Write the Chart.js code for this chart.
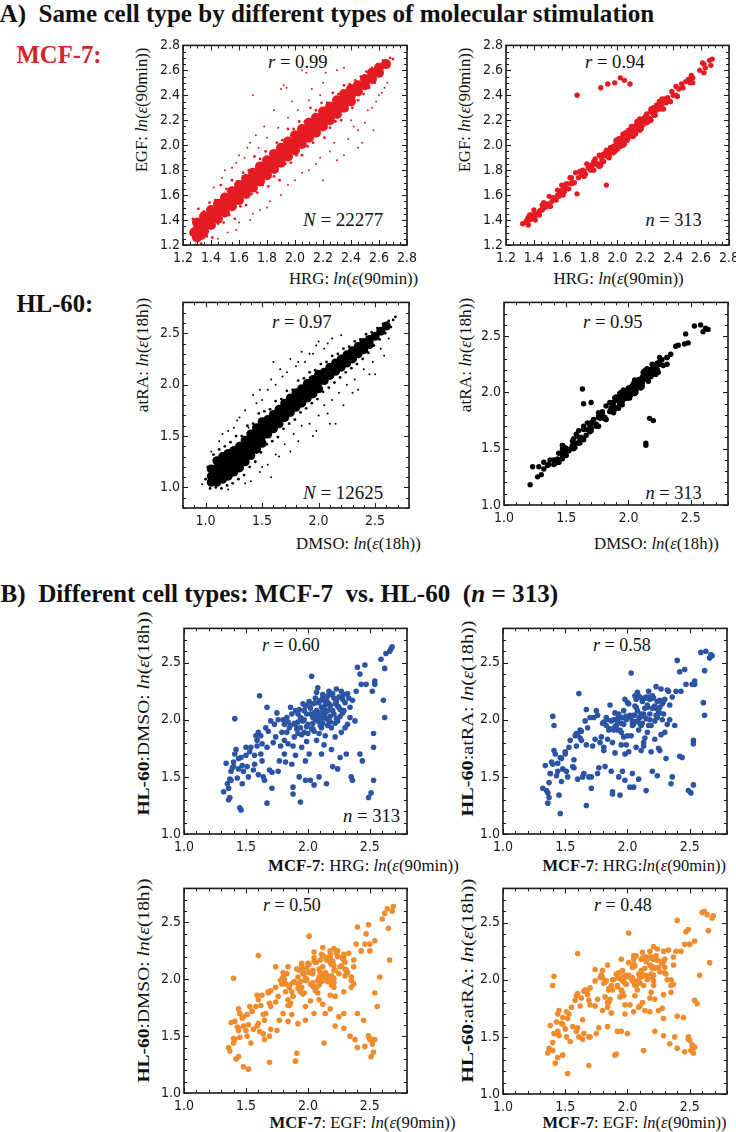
<!DOCTYPE html>
<html>
<head>
<meta charset="utf-8">
<script src="https://cdn.jsdelivr.net/npm/chart.js@4.4.1/dist/chart.umd.min.js"></script>
<style>
  html, body { margin: 0; padding: 0; background: #fff; }
  #page { position: relative; width: 736px; height: 1132px; overflow: hidden;
          font-family: "Liberation Serif", "Times New Roman", serif; color: #111; }
  .box { position: absolute; }
  .lbl { position: absolute; white-space: nowrap; line-height: 1; transform-origin: 50% 50%; }
  .hd { font-weight: bold; }
</style>
</head>
<body>
<div id="page">
  <!-- headings -->
  <div class="lbl hd" style="font-size:25px" data-x="327" data-y="13" data-w="655">A)&nbsp; Same cell type by different types of molecular stimulation</div>
  <div class="lbl hd" style="font-size:25px;color:#d9232a" data-x="59" data-y="54" data-w="85">MCF-7:</div>
  <div class="lbl hd" style="font-size:25px" data-x="55" data-y="303" data-w="77">HL-60:</div>
  <div class="lbl hd" style="font-size:25px" data-x="279" data-y="593" data-w="558">B)&nbsp; Different cell types: MCF-7&nbsp; vs. HL-60&nbsp; (<i>n</i> = 313)</div>

  <!-- MCF-7 row -->
  <div class="lbl" style="font-size:16px" data-x="142" data-y="110" data-w="125" data-r="-90">EGF: <i>ln</i>(<i>ε</i>(90min))</div>
  <div class="lbl" style="font-size:16px" data-x="353" data-y="279" data-w="129">HRG: <i>ln</i>(<i>ε</i>(90min))</div>
  <div class="lbl" style="font-size:18px" data-x="298" data-y="62" data-w="60"><i>r</i> = 0.99</div>
  <div class="lbl" style="font-size:18px" data-x="343" data-y="220" data-w="80"><i>N</i> = 22277</div>
  <div class="lbl" style="font-size:16px" data-x="465" data-y="110" data-w="125" data-r="-90">EGF: <i>ln</i>(<i>ε</i>(90min))</div>
  <div class="lbl" style="font-size:16px" data-x="618" data-y="279" data-w="130">HRG: <i>ln</i>(<i>ε</i>(90min))</div>
  <div class="lbl" style="font-size:18px" data-x="615" data-y="62" data-w="60"><i>r</i> = 0.94</div>
  <div class="lbl" style="font-size:18px" data-x="673" data-y="220" data-w="56"><i>n</i> = 313</div>

  <!-- HL-60 row -->
  <div class="lbl" style="font-size:16px" data-x="143" data-y="355" data-w="114" data-r="-90">atRA: <i>ln</i>(<i>ε</i>(18h))</div>
  <div class="lbl" style="font-size:16px" data-x="358" data-y="544" data-w="125">DMSO: <i>ln</i>(<i>ε</i>(18h))</div>
  <div class="lbl" style="font-size:18px" data-x="302" data-y="322" data-w="60"><i>r</i> = 0.97</div>
  <div class="lbl" style="font-size:18px" data-x="343" data-y="493" data-w="80"><i>N</i> = 12625</div>
  <div class="lbl" style="font-size:16px" data-x="466" data-y="355" data-w="114" data-r="-90">atRA: <i>ln</i>(<i>ε</i>(18h))</div>
  <div class="lbl" style="font-size:16px" data-x="656" data-y="544" data-w="125">DMSO: <i>ln</i>(<i>ε</i>(18h))</div>
  <div class="lbl" style="font-size:18px" data-x="613" data-y="322" data-w="60"><i>r</i> = 0.95</div>
  <div class="lbl" style="font-size:18px" data-x="673" data-y="493" data-w="56"><i>n</i> = 313</div>

  <!-- B panels -->
  <div class="lbl" style="font-size:17px" data-x="143" data-y="713" data-w="204" data-r="-90"><b>HL-60</b>:DMSO: <i>ln</i>(<i>ε</i>(18h))</div>
  <div class="lbl" style="font-size:17px" data-x="363" data-y="865" data-w="191"><b>MCF-7</b>: HRG: <i>ln</i>(<i>ε</i>(90min))</div>
  <div class="lbl" style="font-size:18px" data-x="291" data-y="645" data-w="58"><i>r</i> = 0.60</div>
  <div class="lbl" style="font-size:18px" data-x="371" data-y="816" data-w="57"><i>n</i> = 313</div>

  <div class="lbl" style="font-size:17px" data-x="467" data-y="718" data-w="196" data-r="-90"><b>HL-60</b>:atRA: <i>ln</i>(<i>ε</i>(18h))</div>
  <div class="lbl" style="font-size:17px" data-x="634" data-y="865" data-w="184"><b>MCF-7</b>: HRG:<i>ln</i>(<i>ε</i>(90min))</div>
  <div class="lbl" style="font-size:18px" data-x="622" data-y="645" data-w="58"><i>r</i> = 0.58</div>

  <div class="lbl" style="font-size:17px" data-x="143" data-y="980" data-w="204" data-r="-90"><b>HL-60</b>:DMSO: <i>ln</i>(<i>ε</i>(18h))</div>
  <div class="lbl" style="font-size:17px" data-x="362" data-y="1122" data-w="186"><b>MCF-7</b>: EGF: <i>ln</i>(<i>ε</i>(90min))</div>
  <div class="lbl" style="font-size:18px" data-x="292" data-y="905" data-w="58"><i>r</i> = 0.50</div>

  <div class="lbl" style="font-size:17px" data-x="467" data-y="980" data-w="204" data-r="-90"><b>HL-60</b>:atRA: <i>ln</i>(<i>ε</i>(18h))</div>
  <div class="lbl" style="font-size:17px" data-x="634" data-y="1122" data-w="184"><b>MCF-7</b>: EGF: <i>ln</i>(<i>ε</i>(90min))</div>
  <div class="lbl" style="font-size:18px" data-x="623" data-y="905" data-w="58"><i>r</i> = 0.48</div>
</div>

<script>
// tick labels
const mcfTicks = [1.2, 1.4, 1.6, 1.8, 2.0, 2.2, 2.4, 2.6, 2.8];
const halfTicks = [1.0, 1.5, 2.0, 2.5];

// the n = 313 selected genes, one value per gene
const hrg90 = [
  1.32,1.36,1.37,1.38,1.40,1.40,1.41,1.41,1.46,1.46, 1.47,1.44,1.47,1.50,1.50,1.51,1.52,1.54,1.38,1.43,
  1.35,1.56,1.57,1.59,1.59,1.60,1.61,1.62,1.63,1.63, 1.64,1.65,1.67,1.67,1.69,1.70,1.71,1.71,1.73,1.74,
  1.75,1.77,1.78,1.79,1.58,1.66,1.76,1.81,1.81,1.81, 1.82,1.83,1.83,1.85,1.86,1.87,1.88,1.88,1.88,1.89,
  1.90,1.90,1.92,1.92,1.93,1.93,1.94,1.94,1.95,1.96, 1.96,1.97,1.98,1.98,1.99,1.84,1.87,1.91,1.95,1.97,
  2.00,2.00,2.01,2.02,2.03,2.04,2.04,2.05,2.05,2.06, 2.07,2.07,2.08,2.08,2.09,2.09,2.11,2.11,2.11,2.12,
  2.13,2.13,2.14,2.15,2.15,2.16,2.17,2.17,2.18,2.19, 2.19,2.02,2.06,2.10,2.12,2.14,2.16,2.18,2.03,2.09,
  2.20,2.21,2.21,2.22,2.23,2.24,2.24,2.25,2.25,2.26, 2.27,2.27,2.28,2.30,2.31,2.32,2.33,2.34,2.34,2.35,
  2.36,2.38,2.39,2.40,2.42,2.42,2.43,2.44,2.46,2.47, 2.49,2.22,2.26,2.29,2.23,2.30,2.54,2.59,2.62,2.63,
  2.66,2.67,2.68,2.54,2.52,2.61,2.62,2.53,2.53,2.53, 2.51,1.98,2.01,2.04,2.07,2.10,2.13,2.15,2.17,2.19,
  2.20,2.23,2.26,2.28,1.94,1.99,2.05,2.11,2.16,1.89, 1.34,1.37,1.39,1.42,1.36,1.44,1.48,1.53,1.57,1.62,
  1.68,1.72,1.80,1.84,1.86,1.90,1.92,1.95,1.97,2.00, 2.02,2.04,2.06,2.08,2.10,2.12,2.14,2.16,2.18,2.20,
  2.22,2.24,2.26,2.29,2.32,1.76,1.60,1.99,2.13,2.36, 1.45,1.67
];
const egf90 = [
  1.37,1.36,1.44,1.41,1.41,1.48,1.40,1.45,1.52,1.48, 1.52,1.44,1.54,1.53,1.51,1.59,1.51,1.58,1.44,1.45,
  1.40,1.56,1.64,1.62,1.60,1.68,1.60,1.66,1.69,1.65, 1.69,1.65,1.74,1.70,1.70,1.78,1.61,2.40,1.79,1.76,
  1.80,1.77,1.85,1.82,1.59,1.74,1.75,1.82,1.84,1.80, 1.84,1.80,1.87,1.85,1.84,1.92,1.84,2.46,1.91,1.88,
  1.92,1.87,1.96,1.68,1.91,2.49,1.90,1.95,1.98,1.95, 1.98,1.94,2.50,1.98,1.97,1.89,1.83,1.92,1.98,1.96,
  2.02,1.97,2.05,2.54,2.01,2.09,2.00,2.06,2.52,2.05, 2.09,2.04,2.12,2.08,2.07,2.49,2.07,2.12,2.14,2.11,
  2.15,2.10,2.18,2.15,2.13,2.21,2.13,2.18,2.21,2.18, 2.21,1.99,2.10,2.10,2.10,2.19,2.12,2.19,2.06,2.08,
  2.22,2.18,2.25,2.22,2.21,2.29,2.20,2.26,2.28,2.25, 2.29,2.24,2.32,2.30,2.29,2.37,2.29,2.35,2.37,2.34,
  2.38,2.35,2.43,2.40,2.40,2.47,2.39,2.45,2.49,2.46, 2.51,2.19,2.30,2.29,2.21,2.35,2.50,2.60,2.65,2.62,
  2.68,2.64,2.69,2.54,2.50,2.66,2.58,2.54,2.56,2.52, 2.53,1.95,2.05,2.04,2.05,2.15,2.09,2.16,2.20,2.18,
  2.22,2.20,2.30,2.28,1.92,2.04,2.01,2.12,2.19,1.88, 1.38,1.40,1.43,1.44,1.42,1.47,1.50,1.55,1.60,1.63,
  1.70,1.74,1.81,1.86,1.85,1.93,1.94,1.96,1.99,2.01, 2.04,2.06,2.06,2.11,2.09,2.15,2.14,2.18,2.16,2.23,
  2.21,2.27,2.24,2.31,2.33,1.79,1.64,2.02,2.12,2.37, 1.48,1.69
];
const dmso18 = [
  1.37,1.40,1.32,1.47,1.63,1.59,2.01,1.70,1.21,1.67, 1.60,1.57,1.44,1.76,1.69,1.59,1.50,1.76,1.55,1.49,
  1.44,1.56,1.69,1.77,1.82,1.89,2.21,1.70,1.79,1.64, 1.50,1.47,2.11,1.76,1.56,1.99,1.54,1.40,1.96,1.85,
  2.06,1.64,1.77,1.89,1.86,1.93,1.55,1.96,1.82,1.70, 1.63,2.02,1.89,1.93,2.11,1.61,1.77,1.41,1.35,1.85,
  1.96,1.69,2.05,1.88,2.09,1.50,1.28,1.93,1.76,2.14, 1.99,1.89,1.47,1.64,2.05,1.98,2.05,1.92,2.01,2.08,
  1.96,1.88,1.70,1.47,2.38,2.02,2.14,1.90,1.43,2.19, 1.82,2.08,2.28,1.99,2.15,1.50,1.93,2.11,1.70,2.22,
  2.04,2.17,1.86,2.18,1.44,2.08,1.99,2.25,2.12,1.74, 1.93,2.10,2.01,2.06,1.97,2.13,2.21,2.03,1.92,1.88,
  1.59,2.19,2.05,1.85,2.27,1.57,1.99,2.11,2.20,1.67, 1.89,2.25,2.06,2.15,1.70,1.96,2.19,2.02,2.11,1.50,
  1.47,1.99,2.25,2.46,1.70,2.40,2.31,1.64,2.48,2.31, 1.32,2.14,2.09,2.22,2.01,1.93,2.31,2.53,2.45,2.58,
  2.60,2.62,2.64,2.34,2.25,2.17,2.02,1.88,1.76,1.47, 1.36,2.12,2.16,1.97,2.24,2.17,2.09,2.01,2.14,2.22,
  2.08,2.16,2.03,2.18,2.02,1.94,2.06,2.01,1.95,1.97, 1.62,1.48,1.58,1.74,1.30,1.66,1.55,1.72,1.61,1.86,
  1.90,1.80,2.00,1.79,1.95,2.08,1.98,1.87,2.00,2.13, 2.05,1.92,2.15,2.04,1.95,2.19,2.06,2.15,1.98,2.23,
  1.97,2.12,2.20,2.08,2.23,2.00,1.52,1.81,1.78,2.17, 1.23,1.27
];
const atra18 = [
  1.40,1.36,1.32,1.53,2.03,1.61,1.95,1.73,1.18,1.67, 1.66,1.55,1.46,1.70,1.72,1.55,1.50,1.82,1.53,1.51,
  1.38,1.59,1.65,1.77,1.88,1.87,2.23,1.91,1.82,1.90, 1.50,1.53,2.09,1.78,1.50,2.02,1.50,1.40,2.02,1.83,
  2.08,1.58,1.80,1.85,1.86,1.99,1.53,1.98,1.76,1.73, 1.59,2.02,1.95,1.91,2.13,1.55,1.80,1.37,1.35,1.91,
  1.94,1.71,1.99,1.91,2.05,1.50,1.34,1.91,1.78,1.55, 2.02,1.85,1.47,1.70,2.03,2.00,1.99,1.95,1.97,2.08,
  2.02,1.86,1.72,1.41,2.41,1.98,1.53,1.96,1.41,2.21, 1.76,2.11,2.24,1.99,2.21,1.48,1.95,2.05,1.73,2.18,
  2.04,1.77,1.84,2.20,1.38,2.11,1.95,2.25,2.18,1.72, 1.95,2.04,2.04,2.02,1.97,2.19,2.19,2.05,1.86,1.91,
  1.55,2.19,2.11,1.83,2.29,1.51,2.02,2.07,1.75,1.73, 1.87,2.27,2.00,2.18,1.66,1.96,2.25,2.00,2.13,1.44,
  1.50,1.95,2.25,2.52,1.68,2.42,2.25,1.67,2.44,2.31, 1.38,2.12,2.11,2.16,2.04,1.89,2.31,2.59,2.43,2.60,
  2.54,2.57,2.56,2.34,2.31,2.15,2.04,1.82,1.79,1.43, 1.36,2.18,2.14,1.99,2.18,2.20,2.05,2.01,2.20,2.20,
  2.10,2.10,2.06,2.14,2.02,2.00,2.04,2.03,1.89,2.00, 1.60,1.45,1.63,1.70,1.27,1.62,1.57,1.76,1.58,1.84,
  1.93,1.77,1.97,1.83,1.92,2.06,2.01,1.89,1.96,2.15, 2.02,1.95,2.12,2.08,1.97,2.16,2.10,2.13,2.00,2.21,
  1.99,2.16,2.17,2.05,2.26,2.04,1.48,1.78,1.80,2.20, 1.34,1.25
];

// all MCF-7 genes (N = 22277): dense band, its ragged edge and loose outliers, as [HRG, EGF]
const mcfCore = [
  [1.28,1.30],[1.33,1.28],
  [1.30,1.38],[1.30,1.32],[1.30,1.26],[1.35,1.43],[1.35,1.37],[1.35,1.31],[1.40,1.48],[1.40,1.42],[1.40,1.36],
  [1.45,1.53],[1.45,1.47],[1.45,1.41],[1.50,1.58],[1.50,1.52],[1.50,1.46],[1.55,1.63],[1.55,1.57],[1.55,1.51],
  [1.60,1.68],[1.60,1.62],[1.60,1.56],[1.65,1.73],[1.65,1.67],[1.65,1.61],[1.70,1.78],[1.70,1.72],[1.70,1.66],
  [1.75,1.83],[1.75,1.77],[1.75,1.71],[1.80,1.88],[1.80,1.82],[1.80,1.76],[1.85,1.93],[1.85,1.87],[1.85,1.81],
  [1.90,1.98],[1.90,1.92],[1.90,1.86],[1.95,2.03],[1.95,1.97],[1.95,1.91],[2.00,2.08],[2.00,2.02],[2.00,1.96],
  [2.05,2.13],[2.05,2.07],[2.05,2.01],[2.10,2.18],[2.10,2.12],[2.10,2.06],[2.15,2.22],[2.15,2.16],[2.15,2.10],
  [2.20,2.27],[2.20,2.21],[2.20,2.15],[2.25,2.31],[2.25,2.26],[2.25,2.20],[2.30,2.36],[2.30,2.31],[2.30,2.25],
  [2.35,2.41],[2.35,2.36],[2.35,2.30],[2.40,2.45],[2.40,2.40],[2.40,2.35],[2.45,2.48],[2.45,2.43],
  [2.50,2.53],[2.50,2.48],[2.55,2.58],[2.55,2.53],[2.60,2.62],[2.60,2.58],[2.65,2.65]
];
const mcfEdge = [
  [1.27,1.41],[1.29,1.20],[1.31,1.49],[1.33,1.21],[1.35,1.47],[1.37,1.27],[1.39,1.54],[1.41,1.26],[1.43,1.56],[1.45,1.37],
  [1.47,1.68],[1.49,1.38],[1.51,1.65],[1.53,1.44],[1.55,1.72],[1.57,1.41],[1.59,1.71],[1.61,1.51],[1.63,1.78],[1.65,1.52],
  [1.67,1.80],[1.69,1.61],[1.71,1.91],[1.73,1.62],[1.75,1.89],[1.77,1.68],[1.79,1.95],[1.81,1.67],[1.83,1.95],[1.85,1.75],
  [1.87,2.02],[1.89,1.72],[1.91,2.04],[1.93,1.85],[1.95,2.13],[1.97,1.86],[1.99,2.13],[2.01,1.92],[2.03,2.19],[2.05,1.92],
  [2.07,2.19],[2.09,1.99],[2.11,2.30],[2.13,2.02],[2.15,2.28],[2.17,2.09],[2.19,2.34],[2.21,2.06],[2.23,2.34],[2.25,2.14],
  [2.27,2.42],[2.29,2.19],[2.31,2.41],[2.33,2.20],[2.35,2.48],[2.37,2.28],[2.39,2.49],[2.41,2.30],[2.43,2.52],[2.45,2.36],
  [2.47,2.55],[2.49,2.41],[2.51,2.59],[2.53,2.46],[2.55,2.62],[2.57,2.50],[2.59,2.65],[2.61,2.56],[2.63,2.68],[2.66,2.63],
  [2.68,2.70],[2.70,2.69]
];
const mcfStray = [
  [1.48,1.74],[1.55,1.82],[1.60,1.92],[1.66,1.98],[1.72,2.08],[1.78,2.15],[1.85,2.28],[1.90,2.45],[1.92,2.48],[1.94,2.46],
  [1.70,2.40],[2.05,2.60],[2.08,2.58],[2.22,2.58],[2.30,2.60],[2.35,2.62],[1.98,2.35],[2.12,2.45],[2.20,2.50],[1.52,1.30],
  [1.60,1.38],[1.70,1.45],[1.82,1.55],[1.95,1.68],[2.05,1.78],[2.15,1.85],[2.25,1.95],[2.30,1.88],[2.38,2.05],[2.45,2.12],
  [2.50,2.18],[2.55,2.30],[2.58,2.35],[2.62,2.42],[2.66,2.50],[2.45,1.98],[2.35,1.92],[1.90,1.60],[2.10,1.80],[2.40,2.20],
  [2.60,2.40],[2.20,1.72],[1.75,1.48],[1.42,1.66],[1.50,1.80],[1.58,1.86],[1.64,1.90],[1.68,2.02],[1.74,1.98],[1.80,2.06],
  [1.88,2.14],[1.95,2.22],[2.02,2.28],[2.10,2.36],[2.18,2.40],[1.45,1.25],[1.58,1.32],[1.68,1.40],[1.80,1.50],[2.00,1.72],
  [2.18,1.90],[2.28,2.02],[2.42,2.15],[2.52,2.28],[2.64,2.46],[2.56,2.12],[2.48,2.02]
];

// all HL-60 genes (N = 12625), as [DMSO, atRA]
const hlCore = [
  [1.05,1.18],[1.05,1.11],[1.05,1.05],[1.10,1.26],[1.10,1.19],[1.10,1.12],[1.10,1.05],
  [1.15,1.30],[1.15,1.23],[1.15,1.16],[1.15,1.08],[1.20,1.33],[1.20,1.26],[1.20,1.19],[1.20,1.11],
  [1.25,1.36],[1.25,1.29],[1.25,1.22],[1.25,1.15],[1.30,1.40],[1.30,1.33],[1.30,1.26],[1.30,1.19],
  [1.35,1.46],[1.35,1.39],[1.35,1.32],[1.35,1.25],[1.40,1.52],[1.40,1.45],[1.40,1.38],[1.40,1.31],
  [1.45,1.58],[1.45,1.51],[1.45,1.44],[1.45,1.37],[1.50,1.64],[1.50,1.57],[1.50,1.50],[1.50,1.43],
  [1.55,1.66],[1.55,1.59],[1.55,1.52],[1.60,1.71],[1.60,1.64],[1.60,1.57],[1.65,1.76],[1.65,1.69],[1.65,1.62],
  [1.70,1.82],[1.70,1.75],[1.70,1.68],[1.75,1.87],[1.75,1.80],[1.75,1.73],[1.80,1.92],[1.80,1.85],[1.80,1.78],
  [1.85,1.96],[1.85,1.89],[1.85,1.82],[1.90,2.01],[1.90,1.94],[1.90,1.87],[1.95,2.05],[1.95,1.98],[1.95,1.91],
  [2.00,2.10],[2.00,2.03],[2.00,1.96],[2.05,2.12],[2.05,2.04],[2.10,2.17],[2.10,2.09],[2.15,2.21],[2.15,2.13],
  [2.20,2.25],[2.20,2.17],[2.25,2.29],[2.25,2.21],[2.30,2.33],[2.30,2.25],[2.35,2.37],[2.35,2.30],
  [2.40,2.41],[2.40,2.34],[2.45,2.44],[2.45,2.39],[2.50,2.47],[2.55,2.52],[2.60,2.57]
];
const hlEdge = [
  [1.00,1.08],[1.02,1.20],[1.04,0.99],[1.07,1.32],[1.09,1.00],[1.12,1.37],[1.14,0.99],[1.17,1.40],[1.19,1.02],[1.22,1.44],
  [1.24,1.04],[1.27,1.50],[1.29,1.08],[1.32,1.50],[1.34,1.12],[1.37,1.60],[1.39,1.20],[1.42,1.62],[1.44,1.25],[1.47,1.72],
  [1.49,1.34],[1.52,1.74],[1.54,1.42],[1.57,1.76],[1.59,1.45],[1.62,1.84],[1.64,1.49],[1.67,1.86],[1.69,1.57],[1.72,1.94],
  [1.74,1.62],[1.77,1.95],[1.79,1.66],[1.82,2.04],[1.84,1.73],[1.87,2.06],[1.89,1.77],[1.92,2.12],[1.94,1.82],[1.97,2.14],
  [1.99,1.86],[2.02,2.20],[2.04,1.93],[2.07,2.22],[2.09,1.97],[2.12,2.28],[2.14,2.02],[2.17,2.30],[2.19,2.07],[2.22,2.35],
  [2.24,2.12],[2.27,2.37],[2.29,2.16],[2.32,2.42],[2.34,2.20],[2.37,2.44],[2.39,2.25],[2.42,2.49],[2.44,2.31],[2.47,2.51],
  [2.49,2.38],[2.52,2.55],[2.54,2.44],[2.57,2.59],[2.59,2.50],[2.62,2.62],[2.64,2.56],[2.66,2.63],[2.68,2.66]
];
const hlStray = [
  [1.12,1.45],[1.20,1.55],[1.28,1.65],[1.35,1.75],[1.42,1.90],[1.50,1.85],[1.55,1.95],[1.60,2.22],[1.68,2.08],[1.75,2.25],
  [1.80,2.18],[1.85,2.32],[1.92,2.30],[2.00,2.42],[2.05,2.35],[2.12,2.45],[1.45,1.82],[1.38,1.58],[1.25,1.58],[1.62,2.00],
  [1.72,2.12],[1.88,2.22],[1.05,1.35],[1.98,2.38],[2.20,2.48],[1.40,1.06],[1.48,1.15],[1.55,1.22],[1.62,1.32],[1.70,1.42],
  [1.78,1.52],[1.85,1.60],[1.92,1.62],[2.00,1.70],[2.05,1.80],[2.12,1.85],[2.18,1.92],[2.25,2.00],[2.32,2.05],[2.40,2.15],
  [2.48,2.22],[2.55,2.35],[2.62,2.45],[2.15,1.62],[1.98,1.55],[2.30,1.92],[2.45,2.10],[1.75,1.35],[2.08,1.72],[1.58,1.10],
  [0.97,1.03],[1.15,1.52],[1.30,1.68],[1.48,1.95],[1.58,2.05],[1.66,2.15],[1.82,2.22],[1.95,2.30],[2.08,2.40],[1.50,1.20],
  [1.65,1.30],[1.82,1.45],[1.95,1.50],[2.10,1.62],[2.22,1.80],[2.35,1.95],[2.50,2.10],[2.58,2.28],[1.35,1.04],[1.20,0.98]
];

const RED = '#e51b23';
const BLUE = '#2c54a4';
const ORANGE = '#ee8c2e';
const TICK_FONT = "'Liberation Sans Narrow', 'DejaVu Sans Condensed', 'Arial Narrow', sans-serif";

// place the html labels at their centres, squeezed to the width seen in the figure
function placeLabels() {
  document.querySelectorAll('.lbl').forEach(el => {
    const cx = +el.dataset.x, cy = +el.dataset.y, tw = +el.dataset.w;
    const rot = +(el.dataset.r || 0);
    const w = el.offsetWidth, h = el.offsetHeight;
    el.style.left = (cx - w / 2) + 'px';
    el.style.top = (cy - h / 2) + 'px';
    el.style.transform = 'rotate(' + rot + 'deg) scaleX(' + (tw / w) + ')';
  });
}

const pairs = (xs, ys) => xs.map((v, i) => ({ x: v, y: ys[i] }));
const pts = arr => arr.map(p => ({ x: p[0], y: p[1] }));

// closed frame with inward major/minor ticks on every side (Mathematica look)
const frame = {
  id: 'frame',
  afterDatasetsDraw(chart, args, opts) {
    const { ctx, chartArea: a, scales } = chart;
    const sx = scales.x, sy = scales.y;
    ctx.save();
    ctx.strokeStyle = '#1a1a1a';
    ctx.lineWidth = 1;
    ctx.beginPath();
    const marks = (scale, horiz) => {
      const n = Math.round((scale.max - scale.min) / opts.minor);
      const major = scale.ticks.map(t => t.value);
      for (let i = 0; i <= n; i++) {
        const v = scale.min + i * opts.minor;
        const len = major.some(m => Math.abs(m - v) < 1e-6) ? 5 : 3;
        const p = Math.round(scale.getPixelForValue(v)) + 0.5;
        if (horiz) {
          ctx.moveTo(p, a.bottom); ctx.lineTo(p, a.bottom - len);
          ctx.moveTo(p, a.top); ctx.lineTo(p, a.top + len);
        } else {
          ctx.moveTo(a.left, p); ctx.lineTo(a.left + len, p);
          ctx.moveTo(a.right, p); ctx.lineTo(a.right - len, p);
        }
      }
    };
    marks(sx, true);
    marks(sy, false);
    ctx.stroke();
    ctx.lineWidth = 1.6;
    ctx.strokeRect(a.left, a.top, a.right - a.left, a.bottom - a.top);
    ctx.restore();
  }
};

function axis(lim, labels, which) {
  return {
    type: 'linear',
    min: lim[0],
    max: lim[1],
    grid: { display: false, drawTicks: false },
    border: { display: false },
    afterBuildTicks: s => { s.ticks = labels.map(v => ({ value: v })); },
    afterFit: s => { if (which === 'x') s.height = 30; else s.width = 40; },
    ticks: {
      padding: which === 'x' ? 5 : 3,
      color: '#1a1a1a',
      autoSkip: false,
      maxRotation: 0,
      font: { family: TICK_FONT, size: 14 },
      callback: v => Number(v).toFixed(1)
    }
  };
}

function makePlot(box, lim, labels, minor, datasets) {
  const padL = 40, padT = 10, padR = 14, padB = 30;
  const holder = document.createElement('div');
  holder.className = 'box';
  holder.style.left = (box[0] - padL) + 'px';
  holder.style.top = (box[1] - padT) + 'px';
  const cv = document.createElement('canvas');
  cv.width = box[2] - box[0] + padL + padR;
  cv.height = box[3] - box[1] + padT + padB;
  cv.style.width = cv.width + 'px';
  cv.style.height = cv.height + 'px';
  holder.appendChild(cv);
  document.getElementById('page').appendChild(holder);

  new Chart(cv, {
    type: 'scatter',
    data: { datasets: datasets },
    options: {
      responsive: false,
      animation: false,
      devicePixelRatio: 1,
      layout: { padding: { top: padT, right: padR, left: 0, bottom: 0 } },
      plugins: {
        legend: { display: false },
        tooltip: { enabled: false },
        frame: { minor: minor }
      },
      scales: {
        x: axis(lim, labels, 'x'),
        y: axis(lim, labels, 'y')
      }
    },
    plugins: [frame]
  });
}

function dots(data, color, r) {
  return { data: data, backgroundColor: color, borderWidth: 0, pointRadius: r, pointHoverRadius: r };
}

placeLabels();

// A) MCF-7, all genes and the 313
makePlot([183, 44, 408, 245], [1.2, 2.8], mcfTicks, 0.05, [
  dots(pts(mcfStray), RED, 1),
  dots(pts(mcfEdge), RED, 1.4),
  dots(pts(mcfCore), RED, 5)
]);
makePlot([506, 44, 730, 245], [1.2, 2.8], mcfTicks, 0.05, [
  dots(pairs(hrg90, egf90), RED, 2.7)
]);

// A) HL-60, all genes and the 313
makePlot([183, 301, 409, 508], [0.8, 2.8], halfTicks, 0.1, [
  dots(pts(hlStray), '#000', 1),
  dots(pts(hlEdge), '#000', 1.4),
  dots(pts(hlCore), '#000', 4.5)
]);
makePlot([504, 301, 728, 505], [1.0, 2.8], halfTicks, 0.1, [
  dots(pairs(dmso18, atra18), '#000', 2.7)
]);

// B) MCF-7 vs HL-60
makePlot([184, 627, 407, 834], [1.0, 2.8], halfTicks, 0.1, [dots(pairs(hrg90, dmso18), BLUE, 2.8)]);
makePlot([503, 627, 727, 834], [1.0, 2.8], halfTicks, 0.1, [dots(pairs(hrg90, atra18), BLUE, 2.8)]);
makePlot([184, 887, 407, 1093], [1.0, 2.8], halfTicks, 0.1, [dots(pairs(egf90, dmso18), ORANGE, 2.8)]);
makePlot([503, 887, 727, 1094], [1.0, 2.8], halfTicks, 0.1, [dots(pairs(egf90, atra18), ORANGE, 2.8)]);
</script>
</body>
</html>
